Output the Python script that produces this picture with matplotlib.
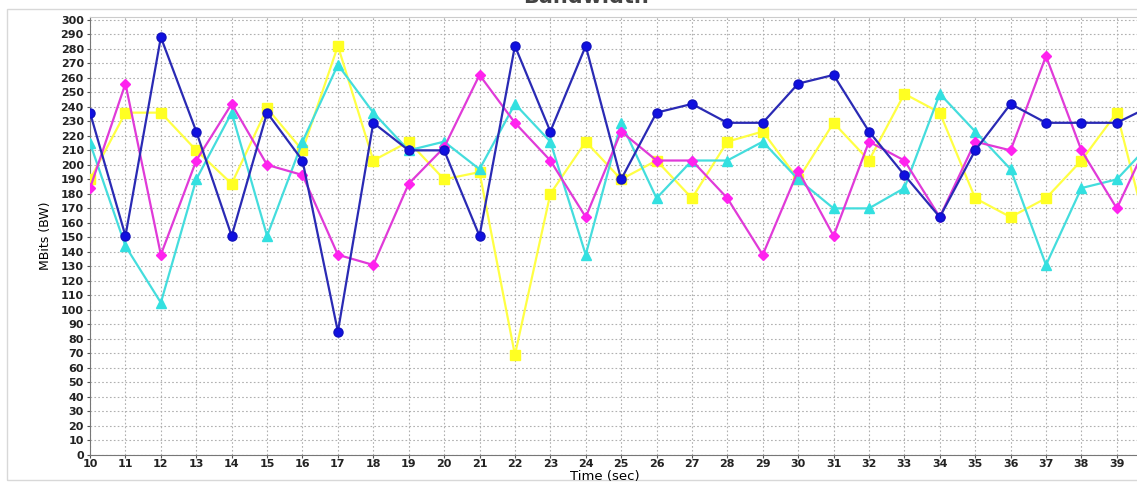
import matplotlib
matplotlib.use('Agg')
import matplotlib.pyplot as plt
from matplotlib.patches import Rectangle


# time axis (sec)
time = list(range(10, 41))

# bandwidth series (MBits)
blue = [236, 151, 288, 223, 151, 236, 203, 85, 229, 210, 210, 151, 282, 223, 282, 190,
        236, 242, 229, 229, 256, 262, 223, 193, 164, 210, 242, 229, 229, 229, 241]
magenta = [184, 256, 138, 203, 242, 200, 193, 138, 131, 187, 212, 262, 229, 203, 164, 223,
           203, 203, 177, 138, 196, 151, 216, 203, 164, 216, 210, 275, 210, 170, 222]
yellow = [190, 236, 236, 210, 187, 239, 210, 282, 203, 216, 190, 195, 69, 180, 216, 190,
          203, 177, 216, 223, 190, 229, 203, 249, 236, 177, 164, 177, 203, 236, 140]
cyan = [215, 144, 105, 190, 236, 151, 216, 269, 236, 210, 216, 197, 242, 216, 138, 229,
        177, 203, 203, 216, 190, 170, 170, 184, 249, 223, 197, 131, 184, 190, 216]

yticks = list(range(0, 301, 10))
xticks = list(range(10, 40))


def main():
	fig = plt.figure(figsize=(11.37, 4.83), dpi=100, facecolor='w')
	ax = fig.add_axes([0.0792, 0.058, 0.9208, 0.907])

	# panel border
	fig.patches.append(Rectangle((0.006, 0.006), 1.2, 0.975, transform=fig.transFigure,
		fill=False, edgecolor='#d8d8d8', linewidth=1.0))

	ax.plot(time, yellow, color='#ffff44', linewidth=1.6, marker='s', markersize=6.5,
		markerfacecolor='#ffff22', markeredgecolor='#ffff22', zorder=3)
	ax.plot(time, cyan, color='#44dddd', linewidth=1.6, marker='^', markersize=6.5,
		markerfacecolor='#33e0e0', markeredgecolor='#33e0e0', zorder=4)
	ax.plot(time, magenta, color='#e03ad8', linewidth=1.6, marker='D', markersize=5,
		markerfacecolor='#ff22ee', markeredgecolor='#ff22ee', zorder=5)
	ax.plot(time, blue, color='#2a2ab4', linewidth=1.6, marker='o', markersize=6.5,
		markerfacecolor='#1010e0', markeredgecolor='#1010c0', zorder=6)

	ax.set_xlim(10, 39.57)
	ax.set_ylim(0, 302)
	ax.set_xticks(xticks)
	ax.set_yticks(yticks)
	ax.tick_params(axis='both', labelsize=8, length=2.5, color='#555555', pad=2)
	ax.tick_params(axis='x', pad=0.5)
	for lab in ax.get_xticklabels() + ax.get_yticklabels():
		lab.set_fontweight('bold')
		lab.set_color('#222222')

	ax.grid(True, linestyle=(0, (1.5, 2)), color='#b0b0b0', linewidth=0.8)
	ax.set_axisbelow(True)

	ax.spines['right'].set_visible(False)
	ax.spines['top'].set_color('#cccccc')
	ax.spines['left'].set_color('#777777')
	ax.spines['bottom'].set_color('#777777')

	ax.set_ylabel('MBits (BW)', fontsize=9, labelpad=6)
	fig.text(0.532, 6.5 / 483, 'Time (sec)', ha='center', va='center', fontsize=9.5)

	# title is mostly cut off at the top of the image
	fig.text(0.515, 1.006, 'Bandwidth', ha='center', va='center', fontsize=15,
		color='#444444', fontweight='bold')

	fig.savefig('out.png', dpi=100)


if __name__ == '__main__':
	main()
